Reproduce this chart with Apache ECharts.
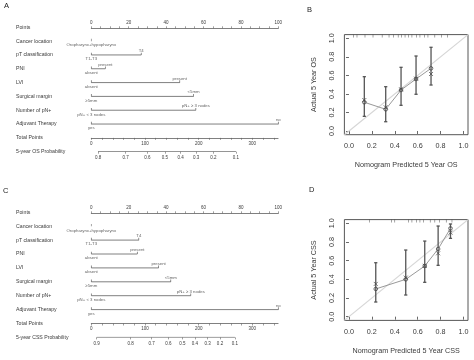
<!DOCTYPE html>
<html><head><meta charset="utf-8">
<style>html,body{margin:0;padding:0;background:#fff}#c{width:474px;height:360px}</style>
<script src="https://cdn.jsdelivr.net/npm/echarts@6.0.0/dist/echarts.min.js"></script>
</head><body><div id="c"></div>
<script>
// ---------- Nomogram data ----------
const rowNamesA = ['Points','Cancer location','pT classification','PNI','LVI','Surgical margin','Number of pN+','Adjuvant Therapy','Total Points','5-year OS Probability'];
const rowNamesC = ['Points','Cancer location','pT classification','PNI','LVI','Surgical margin','Number of pN+','Adjuvant Therapy','Total Points','5-year CSS Probability'];
const levelLow  = ['Oropharynx+hypopharynx','T1-T3','absent','absent','\u22655mm','pN+ < 3 nodes','yes'];
const levelHigh = ['','T4','present','present','<5mm','pN+ \u2265 3 nodes','no'];
const pointsHighA = [0, 26.7, 7.5, 47.3, 54.7, 55.9, 100];
const pointsHighC = [0, 25.4, 24.6, 36.0, 42.5, 53.2, 100];
const pointTicks = [0,5,10,15,20,25,30,35,40,45,50,55,60,65,70,75,80,85,90,95,100];
const pointLabels = [0,20,40,60,80,100];
const totalMax = 348;
const totalTicks = [0,20,40,60,80,100,120,140,160,180,200,220,240,260,280,300,320,340];
const totalLabels = [0,100,200,300];
const osProbLabels = ['0.8','0.7','0.6','0.5','0.4','0.3','0.2','0.1'];
const osProbPts = [12.5,64.1,104.3,137.3,166.6,195.1,227.3,269.6];
const cssProbLabels = ['0.9','0.8','0.7','0.6','0.5','0.4','0.3','0.2','0.1'];
const cssProbPts = [10.1,73.4,112.5,143.5,169.6,193.2,216.9,239.8,267.7];

// ---------- Calibration data ----------
const calTicks = [0,0.2,0.4,0.6,0.8,1.0];
const calMin = -0.04, calMax = 1.04;
const predB = [0.134,0.321,0.455,0.586,0.717];
const obsB  = [0.310,0.234,0.442,0.561,0.676];
const corrB = [0.334,0.255,0.450,0.565,0.615];
const loB   = [0.158,0.100,0.277,0.396,0.496];
const hiB   = [0.586,0.478,0.687,0.809,0.903];
const rugB  = [0.04,0.07,0.14,0.21,0.29,0.35,0.39,0.43,0.46,0.49,0.52,0.55,0.59,0.62,0.66,0.69,0.75,0.81,0.86];
const predD = [0.234,0.496,0.662,0.779,0.887];
const obsD  = [0.297,0.400,0.543,0.725,0.946];
const corrD = [0.351,0.418,0.545,0.679,0.900];
const loD   = [0.157,0.232,0.368,0.550,0.839];
const hiD   = [0.578,0.714,0.810,0.971,0.993];
const rugD  = [0.18,0.37,0.40,0.52,0.55,0.59,0.62,0.65,0.71,0.75,0.79,0.85,0.90];

// ---------- layout ----------
const FF = 'Liberation Sans, Arial, sans-serif';
const TXT = '#3a3a3a';
const LN = '#606060';
const X0 = 91.3, PW = 187, TS = 0.5367;

const grids = [], xAxes = [], yAxes = [], series = [];
function hiddenY(gi){ return {gridIndex:gi, type:'value', min:0, max:1, show:false}; }

function addNomo(rows, highs, y0, step, probPts, probLabels) {
  const yRow = i => y0 + step*i;
  let gi = grids.length;
  grids.push({left:X0, width:PW, top:y0, height:step*9});
  xAxes.push({gridIndex:gi, type:'value', min:0, max:100, show:false});
  yAxes.push({gridIndex:gi, type:'category', data:rows, inverse:true, boundaryGap:false,
    axisLine:{show:false}, axisTick:{show:false}, splitLine:{show:false},
    axisLabel:{interval:0, align:'left', margin:X0-16, fontSize:5.2, color:TXT, fontFamily:FF}});
  const labelData = [];
  for (let k = 0; k < highs.length; k++) {
    const row = rows[k+1];
    if (highs[k] > 0) {
      series.push({type:'line', xAxisIndex:gi, yAxisIndex:gi, silent:true, animation:false,
        data:[[0,row],[highs[k],row]], symbol:'rect', symbolSize:[0.7,2.4], symbolOffset:[0,-1.1],
        itemStyle:{color:LN}, lineStyle:{color:LN, width:0.8}});
      labelData.push({value:[highs[k],row], label:{formatter:levelHigh[k], position:'top'}});
    } else {
      series.push({type:'scatter', xAxisIndex:gi, yAxisIndex:gi, silent:true, animation:false,
        data:[[0,row]], symbol:'rect', symbolSize:[0.7,2.4], symbolOffset:[0,-1.1], itemStyle:{color:LN}});
    }
    labelData.push({value:[0,row], label:{formatter:levelLow[k], position:'bottom'}});
  }
  series.push({type:'scatter', xAxisIndex:gi, yAxisIndex:gi, silent:true, animation:false,
    symbolSize:0, data:labelData,
    label:{show:true, fontSize:4.3, color:TXT, fontFamily:FF, distance:2.2}});

  gi = grids.length;
  grids.push({left:X0, width:PW, top:yRow(0), height:1});
  xAxes.push({gridIndex:gi, type:'value', min:0, max:100, position:'top',
    axisLine:{lineStyle:{color:LN, width:0.8}}, splitLine:{show:false},
    axisTick:{customValues:pointTicks, length:2, lineStyle:{color:LN, width:0.6}},
    axisLabel:{customValues:pointLabels, fontSize:4.5, margin:2.5, color:TXT, fontFamily:FF}});
  yAxes.push(hiddenY(gi));

  gi = grids.length;
  grids.push({left:X0, width:totalMax*TS, top:yRow(8)-1, height:1});
  xAxes.push({gridIndex:gi, type:'value', min:0, max:totalMax,
    axisLine:{lineStyle:{color:LN, width:0.8}}, splitLine:{show:false},
    axisTick:{customValues:totalTicks, length:2, lineStyle:{color:LN, width:0.6}},
    axisLabel:{customValues:totalLabels, fontSize:4.5, margin:3, color:TXT, fontFamily:FF}});
  yAxes.push(hiddenY(gi));

  gi = grids.length;
  grids.push({left:X0, width:totalMax*TS, top:yRow(9)-1, height:1});
  xAxes.push({gridIndex:gi, type:'value', min:0, max:totalMax,
    axisLine:{show:false}, splitLine:{show:false},
    axisTick:{customValues:probPts, length:2, lineStyle:{color:LN, width:0.6}},
    axisLabel:{customValues:probPts, fontSize:4.5, margin:3.5, color:TXT, fontFamily:FF,
      formatter:v => { const i = probPts.findIndex(p => Math.abs(p - v) < 1e-6); return i >= 0 ? probLabels[i] : ''; }}});
  yAxes.push(hiddenY(gi));
  series.push({type:'line', xAxisIndex:gi, yAxisIndex:gi, silent:true, animation:false, symbol:'none',
    data:[[probPts[0],0],[probPts[probPts.length-1],0]], lineStyle:{color:LN, width:0.8}});
}

function addCal(top, height, pred, obs, corr, lo, hi, rug, xname, yname) {
  const gi = grids.length;
  grids.push({left:344.4, width:123.6, top:top, height:height, show:true, borderColor:'#444', borderWidth:0.9, backgroundColor:'transparent'});
  const axCommon = {gridIndex:gi, type:'value', min:calMin, max:calMax,
    axisLine:{show:false}, splitLine:{show:false},
    axisTick:{customValues:calTicks, length:3, lineStyle:{color:'#444', width:0.8}},
    nameLocation:'middle', nameTextStyle:{fontSize:7.2, color:TXT, fontFamily:FF}};
  xAxes.push(Object.assign({}, axCommon, {name:xname, nameGap:27,
    axisLabel:{customValues:calTicks, formatter:v => v.toFixed(1), fontSize:7.2, margin:8, color:TXT, fontFamily:FF}}));
  yAxes.push(Object.assign({}, axCommon, {name:yname, nameGap:27,
    axisLabel:{customValues:calTicks, formatter:v => v.toFixed(1), fontSize:7.2, margin:8.5, rotate:90, color:TXT, fontFamily:FF}}));
  series.push({type:'line', xAxisIndex:gi, yAxisIndex:gi, silent:true, animation:false, symbol:'none',
    data:[[calMin,calMin],[calMax,calMax]], lineStyle:{color:'#d6d6d6', width:1.2}, z:1});
  series.push({type:'custom', xAxisIndex:gi, yAxisIndex:gi, silent:true, animation:false,
    data:pred.map((p,i) => [p, lo[i], hi[i]]),
    renderItem:(params, api) => {
      const a = api.coord([api.value(0), api.value(1)]);
      const b = api.coord([api.value(0), api.value(2)]);
      const st = {stroke:'#555', lineWidth:1.3};
      return {type:'group', children:[
        {type:'line', shape:{x1:a[0], y1:a[1], x2:b[0], y2:b[1]}, style:st},
        {type:'line', shape:{x1:a[0]-1.6, y1:a[1], x2:a[0]+1.6, y2:a[1]}, style:st},
        {type:'line', shape:{x1:b[0]-1.6, y1:b[1], x2:b[0]+1.6, y2:b[1]}, style:st}
      ]};
    }, z:2});
  series.push({type:'line', xAxisIndex:gi, yAxisIndex:gi, silent:true, animation:false, symbol:'none',
    data:pred.map((p,i) => [p, obs[i]]), lineStyle:{color:'#999', width:1}, z:3});
  series.push({type:'scatter', xAxisIndex:gi, yAxisIndex:gi, silent:true, animation:false,
    data:pred.map((p,i) => [p, obs[i]]), symbol:'circle', symbolSize:3.6,
    itemStyle:{color:'rgba(0,0,0,0)', borderColor:'#444', borderWidth:1}, z:4});
  series.push({type:'scatter', xAxisIndex:gi, yAxisIndex:gi, silent:true, animation:false,
    data:pred.map((p,i) => [p, corr[i]]), symbol:'path://M0,0L10,10M10,0L0,10', symbolSize:4,
    itemStyle:{color:'none', borderColor:'#444', borderWidth:0.9}, z:4});
  series.push({type:'scatter', xAxisIndex:gi, yAxisIndex:gi, silent:true, animation:false,
    data:rug.map(r => [r, calMax]), symbol:'rect', symbolSize:[0.6,3], symbolOffset:[0,1.5],
    itemStyle:{color:'#444'}, z:4});
}

addNomo(rowNamesA, pointsHighA, 27.3, 13.82, osProbPts, osProbLabels);
addNomo(rowNamesC, pointsHighC, 212.3, 13.9, cssProbPts, cssProbLabels);
addCal(34.6, 100.1, predB, obsB, corrB, loB, hiB, rugB, 'Nomogram Predicted 5 Year OS', 'Actual 5 Year OS');
addCal(219.6, 100.8, predD, obsD, corrD, loD, hiD, rugD, 'Nomogram Predicted 5 Year CSS', 'Actual 5 Year CSS');

const tStyle = {fontSize:7.5, fontWeight:'normal', color:'#222', fontFamily:FF};
const option = {
  animation:false,
  backgroundColor:'#fff',
  title:[
    {text:'A', left:4, top:2, textStyle:tStyle, padding:0},
    {text:'B', left:307, top:6, textStyle:tStyle, padding:0},
    {text:'C', left:3, top:187, textStyle:tStyle, padding:0},
    {text:'D', left:309, top:186, textStyle:tStyle, padding:0}
  ],
  grid:grids, xAxis:xAxes, yAxis:yAxes, series:series
};
const chart = echarts.init(document.getElementById('c'), null, {renderer:'canvas'});
chart.setOption(option);
</script>
</body></html>
